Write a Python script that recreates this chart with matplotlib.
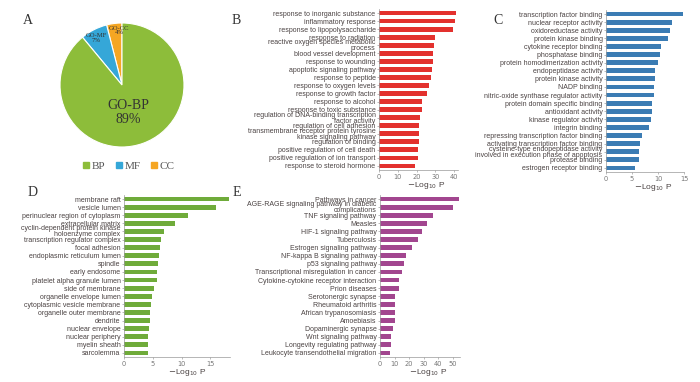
import matplotlib
matplotlib.use('Agg')
import matplotlib.pyplot as plt
from matplotlib.lines import Line2D

# Pie data (panel A)
pie_labels = ['CC', 'MF', 'BP']
pie_values = [4, 7, 89]
pie_colors = ['#f5a623', '#35a7d8', '#8dbd3a']

# Panel B - GO biological process
bp_terms = ['response to inorganic substance', 'inflammatory response',
            'response to lipopolysaccharide', 'response to radiation',
            'reactive oxygen species metabolic\nprocess', 'blood vessel development',
            'response to wounding', 'apoptotic signaling pathway',
            'response to peptide', 'response to oxygen levels',
            'response to growth factor', 'response to alcohol',
            'response to toxic substance',
            'regulation of DNA-binding transcription\nfactor activity',
            'regulation of cell adhesion',
            'transmembrane receptor protein tyrosine\nkinase signaling pathway',
            'regulation of binding', 'positive regulation of cell death',
            'positive regulation of ion transport', 'response to steroid hormone']
bp_vals = [41.2, 40.5, 39.1, 29.9, 29.3, 28.6, 28.6, 28.3, 27.4, 26.7,
           25.6, 22.9, 22.8, 22.0, 21.3, 21.3, 21.2, 20.8, 20.8, 19.4]

# Panel C - GO molecular function
mf_terms = ['transcription factor binding', 'nuclear receptor activity',
            'oxidoreductase activity', 'protein kinase binding',
            'cytokine receptor binding', 'phosphatase binding',
            'protein homodimerization activity', 'endopeptidase activity',
            'protein kinase activity', 'NADP binding',
            'nitric-oxide synthase regulator activity',
            'protein domain specific binding', 'antioxidant activity',
            'kinase regulator activity', 'integrin binding',
            'repressing transcription factor binding',
            'activating transcription factor binding',
            'cysteine-type endopeptidase activity\ninvolved in execution phase of apoptosis',
            'protease binding', 'estrogen receptor binding']
mf_vals = [14.9, 12.6, 12.3, 11.9, 10.5, 10.3, 10.0, 9.5, 9.5, 9.3,
           9.3, 8.9, 8.9, 8.6, 8.2, 7.0, 6.6, 6.3, 6.3, 5.6]

# Panel D - GO cellular component
cc_terms = ['membrane raft', 'vesicle lumen', 'perinuclear region of cytoplasm',
            'extracellular matrix', 'cyclin-dependent protein kinase\nholoenzyme complex',
            'transcription regulator complex', 'focal adhesion',
            'endoplasmic reticulum lumen', 'spindle', 'early endosome',
            'platelet alpha granule lumen', 'side of membrane',
            'organelle envelope lumen', 'cytoplasmic vesicle membrane',
            'organelle outer membrane', 'dendrite', 'nuclear envelope',
            'nuclear periphery', 'myelin sheath', 'sarcolemma']
cc_vals = [18.2, 15.9, 11.1, 8.8, 6.9, 6.45, 6.3, 6.0, 5.9, 5.8,
           5.75, 5.2, 4.9, 4.65, 4.5, 4.5, 4.3, 4.1, 4.1, 4.1]

# Panel E - KEGG
kegg_terms = ['Pathways in cancer',
              'AGE-RAGE signaling pathway in diabetic\ncomplications',
              'TNF signaling pathway', 'Measles', 'HIF-1 signaling pathway',
              'Tuberculosis', 'Estrogen signaling pathway',
              'NF-kappa B signaling pathway', 'p53 signaling pathway',
              'Transcriptional misregulation in cancer',
              'Cytokine-cytokine receptor interaction', 'Prion diseases',
              'Serotonergic synapse', 'Rheumatoid arthritis',
              'African trypanosomiasis', 'Amoebiasis', 'Dopaminergic synapse',
              'Wnt signaling pathway', 'Longevity regulating pathway',
              'Leukocyte transendothelial migration']
kegg_vals = [54.1, 50.2, 36.3, 32.4, 29.0, 26.3, 22.1, 17.8, 16.4, 15.1,
             13.0, 13.0, 10.5, 10.5, 10.3, 10.3, 8.9, 7.5, 7.3, 7.1]

W, H = 700, 382
fig = plt.figure(figsize=(7, 3.82), dpi=100)
serif = 'Liberation Serif'
txt_col = '#4a4242'


def px_axes(x0, y0, x1, y1):
    return fig.add_axes([x0 / W, 1 - y1 / H, (x1 - x0) / W, (y1 - y0) / H])


def bar_panel(rect, terms, vals, color, xmax, ticks):
    ax = px_axes(*rect)
    y = list(range(len(terms)))
    ax.barh(y, vals, height=0.6, color=color)
    ax.set_yticks(y)
    ax.set_yticklabels(terms, fontsize=5.0, color=txt_col,
                       family='Liberation Sans', linespacing=0.8)
    ax.set_ylim(len(terms) - 0.5, -0.5)
    ax.set_xlim(0, xmax)
    ax.set_xticks(ticks)
    ax.tick_params(axis='x', labelsize=4.8, labelcolor='#777777', length=1.5,
                   width=0.4, color='#888888', pad=1.5)
    ax.tick_params(axis='y', length=1.5, width=0.4, color='#888888', pad=1)
    for s in ['top', 'right']:
        ax.spines[s].set_visible(False)
    for s in ['left', 'bottom']:
        ax.spines[s].set_linewidth(0.5)
        ax.spines[s].set_color('#999999')
    ax.set_xlabel(r'$-$Log$_{10}$ P', fontsize=6, color=txt_col,
                  family='Liberation Sans', labelpad=1)
    ax.xaxis.set_label_coords(0.6, -0.06)
    return ax


# Panel A - pie
axp = px_axes(60, 23, 184, 147)
axp.pie(pie_values, colors=pie_colors, startangle=90, counterclock=True,
        wedgeprops=dict(linewidth=0.8, edgecolor='white'))
axp.set_xlim(-1, 1)
axp.set_ylim(-1, 1)
axp.text(0.1, -0.45, 'GO-BP\n89%', ha='center', va='center', fontsize=10,
         family=serif, color='#333333', linespacing=1.1)
axp.text(-0.42, 0.76, 'GO-MF\n7%', ha='center', va='center', fontsize=4.8,
         family=serif, color='#333333', linespacing=0.95)
axp.text(-0.05, 0.88, 'GO-CC\n4%', ha='center', va='center', fontsize=4.8,
         family=serif, color='#333333', linespacing=0.95)

handles = [Line2D([], [], marker='s', linestyle='', color=c, markersize=5)
           for c in pie_colors[::-1]]
fig.legend(handles, pie_labels[::-1], ncol=3, frameon=False,
           loc='center', bbox_to_anchor=(128 / W, 1 - 166 / H),
           prop={'family': serif, 'size': 8}, handletextpad=0.1,
           columnspacing=0.8, handlelength=0.8, labelcolor='#555555')

bar_panel((379, 9, 458, 170), bp_terms, bp_vals, '#e3312e', 42, [0, 10, 20, 30, 40])
bar_panel((606, 10, 684, 172), mf_terms, mf_vals, '#3b7cb4', 15, [0, 5, 10, 15])
bar_panel((124, 195, 230, 357), cc_terms, cc_vals, '#6fab3a', 18.4, [0, 5, 10, 15])
bar_panel((380, 195, 460, 357), kegg_terms, kegg_vals, '#a2468f', 55, [0, 10, 20, 30, 40, 50])

for letter, x, y in [('A', 28, 20), ('B', 236, 20), ('C', 498, 20),
                     ('D', 33, 193), ('E', 237, 193)]:
    fig.text(x / W, 1 - y / H, letter, fontsize=10, family=serif,
             color='#333333', ha='center', va='center')

fig.savefig('out.png', dpi=100)
